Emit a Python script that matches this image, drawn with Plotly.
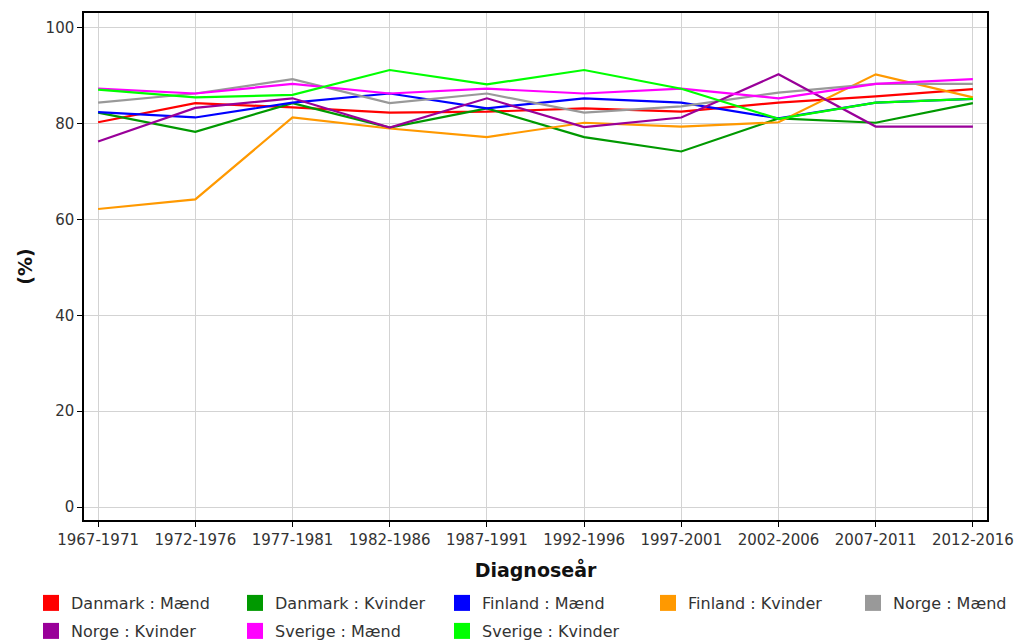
import plotly.graph_objects as go

periods = ["1967-1971", "1972-1976", "1977-1981", "1982-1986", "1987-1991",
           "1992-1996", "1997-2001", "2002-2006", "2007-2011", "2012-2016"]

danmark_maend = [80.3, 84.3, 83.4, 82.3, 82.5, 83.2, 82.5, 84.4, 85.7, 87.2]
danmark_kvinder = [82.3, 78.3, 84.3, 79.2, 83.2, 77.2, 74.2, 81.1, 80.2, 84.3]
finland_maend = [82.4, 81.3, 84.4, 86.3, 83.2, 85.3, 84.4, 81.1, 84.4, 85.2]
finland_kvinder = [62.2, 64.2, 81.3, 79.0, 77.2, 80.2, 79.4, 80.3, 90.3, 85.5]
norge_maend = [84.4, 86.3, 89.3, 84.3, 86.3, 82.3, 83.6, 86.5, 88.3, 88.3]
norge_kvinder = [76.3, 83.3, 85.3, 79.2, 85.3, 79.3, 81.3, 90.3, 79.4, 79.4]
sverige_maend = [87.3, 86.3, 88.3, 86.3, 87.3, 86.3, 87.3, 85.3, 88.3, 89.3]
sverige_kvinder = [87.1, 85.5, 86.0, 91.2, 88.2, 91.2, 87.3, 81.0, 84.4, 85.2]

y_ticks = [0, 20, 40, 60, 80, 100]

series = [
    ("Danmark : Mænd", danmark_maend, "#FF0000"),
    ("Danmark : Kvinder", danmark_kvinder, "#009900"),
    ("Finland : Mænd", finland_maend, "#0000FF"),
    ("Finland : Kvinder", finland_kvinder, "#FF9900"),
    ("Norge : Mænd", norge_maend, "#999999"),
    ("Norge : Kvinder", norge_kvinder, "#990099"),
    ("Sverige : Mænd", sverige_maend, "#FF00FF"),
    ("Sverige : Kvinder", sverige_kvinder, "#00FF00"),
]

W, H = 1017, 641
font_family = "DejaVu Sans, Verdana, sans-serif"

fig = go.Figure()
for name, vals, col in series:
    fig.add_trace(go.Scatter(x=periods, y=vals, mode="lines", name=name,
                             line=dict(color=col, width=2.2), showlegend=False))

# legend layout: 5 items in first row, 3 in second
col_px = [44, 248, 455, 661, 866]
row_px = [603, 631]
legends = {}
for i, (name, vals, col) in enumerate(series):
    key = "legend" if i == 0 else f"legend{i + 1}"
    fig.add_trace(go.Scatter(x=[None], y=[None], mode="markers", name=name,
                             marker=dict(symbol="square", size=18, color=col),
                             showlegend=True, legend=key))
    cx = col_px[i % 5]
    ry = row_px[i // 5]
    legends[key] = dict(
        orientation="h", xref="container", yref="container",
        x=(cx - 13) / W, y=1 - ry / H, xanchor="left", yanchor="middle",
        itemsizing="trace",
        font=dict(size=16, color="#333333", family=font_family),
        bgcolor="rgba(0,0,0,0)",
    )

fig.update_layout(
    width=W, height=H,
    margin=dict(l=84, r=30, t=13, b=121, autoexpand=False),
    paper_bgcolor="white", plot_bgcolor="white",
    font=dict(family=font_family, size=15, color="#333333"),
    xaxis=dict(
        type="category", range=[-0.145, 9.145], automargin=False,
        showgrid=True, gridcolor="#D3D3D3", gridwidth=1,
        showline=True, linecolor="black", linewidth=1.5, mirror=True,
        ticks="outside", ticklen=5, tickcolor="black",
        tickfont=dict(size=15, color="#333333"),
        title=dict(text="<b>Diagnoseår</b>", font=dict(size=19, color="#111111"), standoff=16),
        zeroline=False,
    ),
    yaxis=dict(
        range=[-2.7, 103.1], tickvals=y_ticks, automargin=False,
        showgrid=True, gridcolor="#D3D3D3", gridwidth=1,
        showline=True, linecolor="black", linewidth=1.5, mirror=True,
        ticks="outside", ticklen=5, tickcolor="black",
        tickfont=dict(size=15, color="#333333"),
        title=dict(text="<b>(%)</b>", font=dict(size=19, color="#111111"), standoff=8),
        zeroline=False,
    ),
    **legends,
)

fig.write_html("out.html", config={"displayModeBar": False},
               post_script="document.body.style.margin='0';")
